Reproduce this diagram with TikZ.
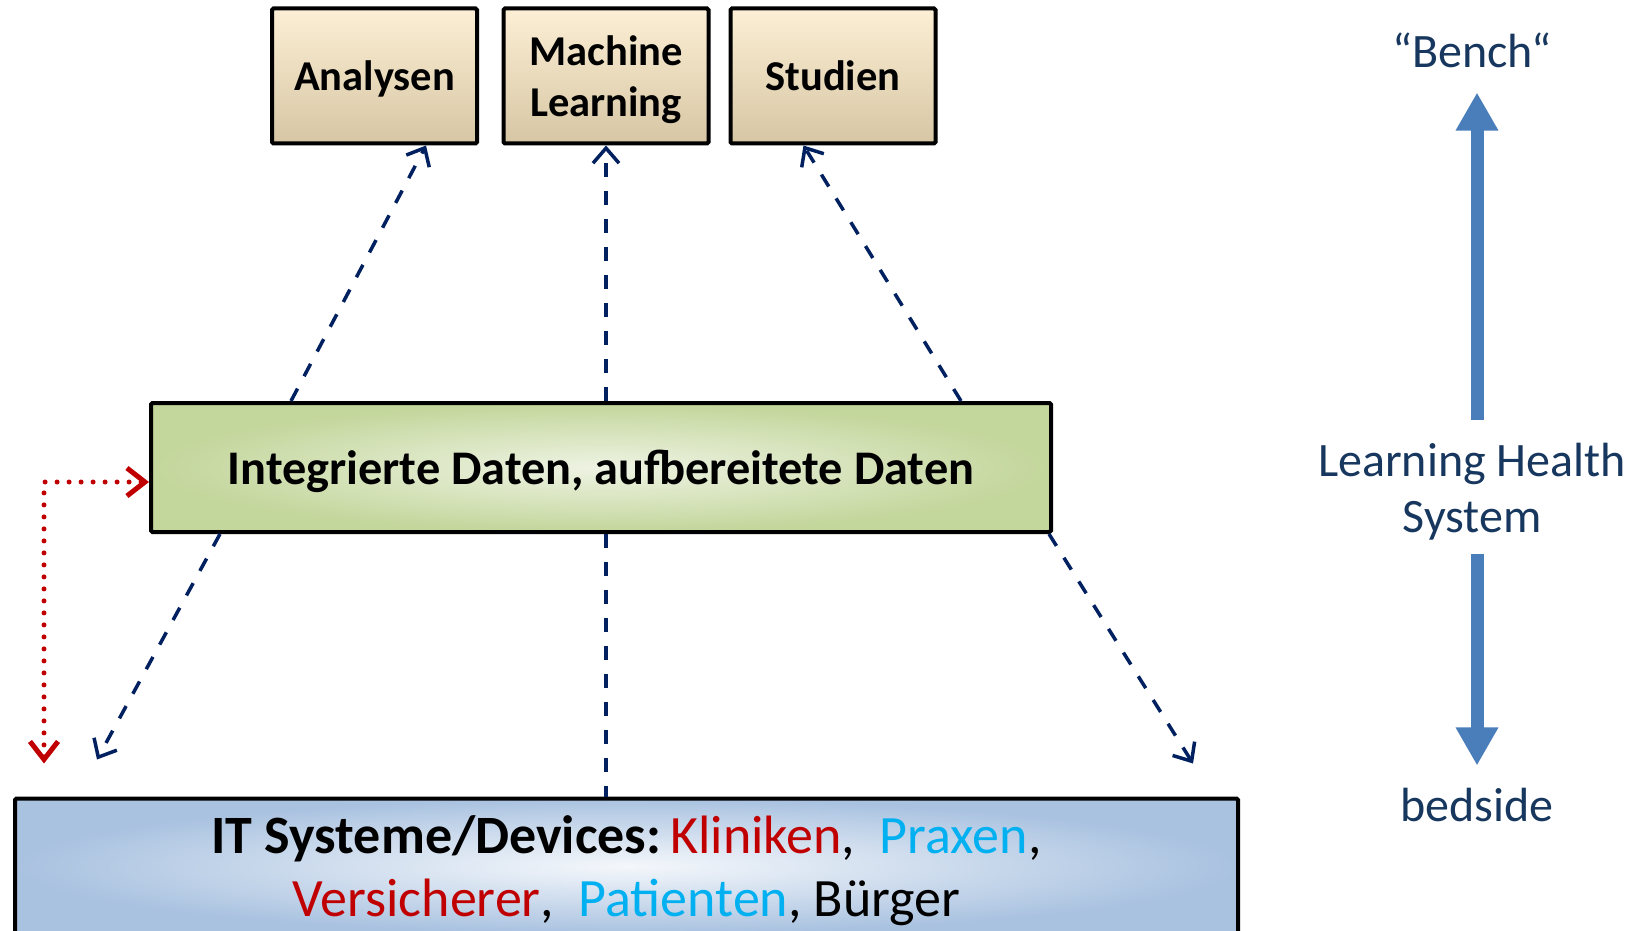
\documentclass[tikz,border=0pt]{standalone}
\usepackage{fontspec}
\setmainfont{Carlito}
\usetikzlibrary{arrows.meta,calc}

\definecolor{navy}{HTML}{002060}
\definecolor{lhsblue}{HTML}{4A7EBB}
\definecolor{lhstext}{HTML}{17375E}
\definecolor{kred}{HTML}{C00000}
\definecolor{kcyan}{HTML}{00B0F0}
\definecolor{tantop}{HTML}{FDEFD5}
\definecolor{tanmid}{HTML}{F1E5CA}
\definecolor{tanbot}{HTML}{D6C6A4}
\definecolor{greenout}{HTML}{C3D69B}
\definecolor{greenin}{HTML}{EEF3E3}
\definecolor{blueout}{HTML}{A9C2E0}
\definecolor{bluein}{HTML}{F4F7FB}

\begin{document}
\begin{tikzpicture}[x=1pt,y=-1pt,
box/.style={draw=black, line width=4pt, rounded corners=1.5pt, align=center, inner sep=0pt, text depth=0pt},
topbox/.style={box, minimum width=205pt, minimum height=135pt,
  top color=tantop, middle color=tanmid, bottom color=tanbot,
  font=\fontsize{42.5}{51}\selectfont\bfseries},
databox/.style={box, minimum width=900pt, minimum height=129pt,
  inner color=greenin, outer color=greenout,
  font=\fontsize{48.3}{56}\selectfont\bfseries},
itbox/.style={box, minimum width=1223pt, minimum height=135pt,
  inner color=bluein, outer color=blueout,
  font=\fontsize{54}{63}\selectfont},
lhs/.style={inner sep=0pt, text=lhstext, align=center, font=\fontsize{48}{56}\selectfont},
dasharrow/.style={draw=navy, line width=3.5pt, dash pattern=on 14pt off 14pt,
  -{Straight Barb[length=15pt,width=26pt]}},
dotarrow/.style={draw=kred, line width=5pt, line cap=round, dash pattern=on 0pt off 12pt,
  {Straight Barb[length=18pt,width=28pt]}-{Straight Barb[length=18pt,width=28pt]}},
lhsarrow/.style={draw=lhsblue, line width=13pt, -{Triangle[length=38pt,width=40pt]}}]

\useasboundingbox (0,0) rectangle (1649,931);
\clip (0,0) rectangle (1649,931);

\node[topbox] (A) at (374.5,76) {Analysen};
\node[topbox] (ML) at (606,76) {Machine\\Learning};
\node[topbox] (S) at (833,76) {Studien};
\node[databox] (D) at (601,467.5) {Integrierte Daten, aufbereitete Daten};
\node[itbox] (IT) at (626.5,866) {{\bfseries IT Systeme/Devices:}\,\textcolor{kred}{Kliniken},\ \ \textcolor{kcyan}{Praxen},\\
  \textcolor{kred}{Versicherer},\ \ \textcolor{kcyan}{Patienten}, Bürger};

\node[lhs, anchor=base] (B) at (1472,68) {“Bench“};
\node[lhs] (L) at (1472,491.5) {Learning Health\\System};
\node[lhs, anchor=base] (bed) at (1477,821) {bedside};

% data flows
\draw[dasharrow] ([xshift=142pt]D.north west) -- ([xshift=-53pt]A.south east);
\draw[dasharrow] (ML.south |- D.north) -- (ML.south);
\draw[dasharrow] ([xshift=-92pt]D.north east) -- ([xshift=75pt]S.south west);
\draw[dasharrow] ([xshift=71pt]D.south west) -- ([xshift=84pt,yshift=37pt]IT.north west);
\draw[dasharrow] ([xshift=-4pt]D.south east) -- ([xshift=-47pt,yshift=33pt]IT.north east);
\draw[draw=navy, line width=3.5pt, dash pattern=on 14pt off 14pt] (ML.south |- D.south) -- (ML.south |- IT.north);

\draw[dotarrow] ([xshift=31pt,yshift=33pt]IT.north west) |- ([yshift=-14.5pt]D.west);

% bench <-> bedside
\draw[lhsarrow, shorten <=23pt, shorten >=24pt] (L.north -| bed.north) -- (B.south -| bed.north);
\draw[lhsarrow, shorten <=14pt, shorten >=22pt] (L.south -| bed.north) -- (bed.north);

\end{tikzpicture}
\end{document}
